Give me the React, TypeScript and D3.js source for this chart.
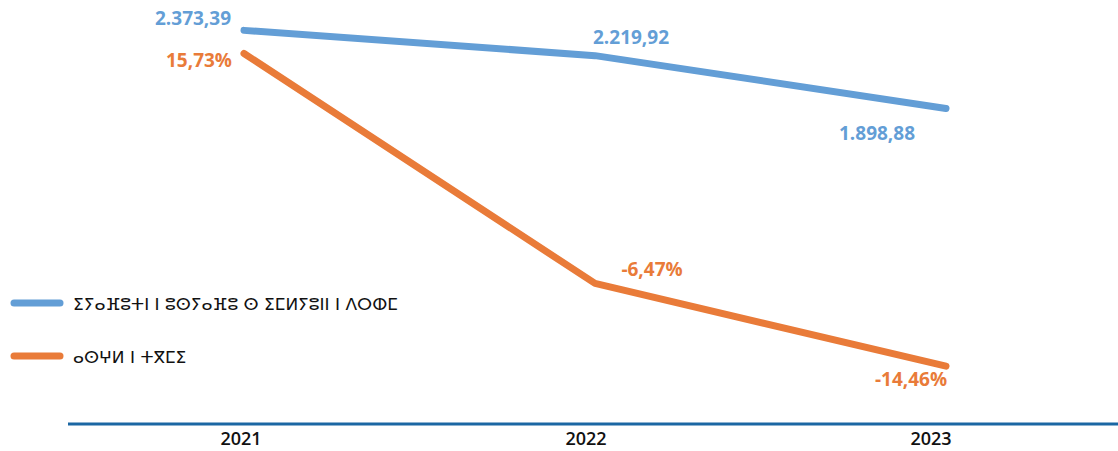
import * as d3 from 'd3';

const years = ['2021', '2022', '2023'];
const amounts = [2373.39, 2219.92, 1898.88];
const amountLabels = ['2.373,39', '2.219,92', '1.898,88'];
const rates = [15.73, -6.47, -14.46];
const rateLabels = ['15,73%', '-6,47%', '-14,46%'];
const legendNames = ['ⵉⵢⴰⴼⵓⵜⵏ ⵏ ⵓⵙⵢⴰⴼⵓ ⵙ ⵉⵎⵍⵢⵓⵏⵏ ⵏ ⴷⵔⵀⵎ', 'ⴰⵙⵖⵍ ⵏ ⵜⴳⵎⵉ'];

const W = 1118;
const H = 451;
const BLUE = '#639ed6';
const ORANGE = '#e97b39';

export default function App() {
  const x = d3.scaleBand().domain(years).range([68.5, 1121.5]);
  const cx = (d: string) => (x(d) as number) + x.bandwidth() / 2;
  // year labels sit a bit left of the points
  const labelX = d3.scalePoint().domain(years).range([241, 931]);
  const yAmount = d3.scaleLinear().domain([0, 2400]).range([421, 26]);
  const yRate = d3.scaleLinear().domain([-19.75, 18.38]).range([421, 26]);

  const amountLine = d3.line<number>().x((_, i) => cx(years[i])).y(d => yAmount(d));
  const rateLine = d3.line<number>().x((_, i) => cx(years[i])).y(d => yRate(d));

  const amountOffsets = [[-51, -5], [36, -12], [-69, 32]];
  const rateOffsets = [[-45, 14], [57, -7], [-35, 20]];

  return (
    <svg width={W} height={H} style={{position: 'absolute', left: 0, top: 0}}
         fontFamily="'Open Sans', sans-serif">
      <path d={rateLine(rates) ?? ''} fill="none" stroke={ORANGE} strokeWidth={7} strokeLinecap="round" strokeLinejoin="round"/>
      <path d={amountLine(amounts) ?? ''} fill="none" stroke={BLUE} strokeWidth={7} strokeLinecap="round" strokeLinejoin="round"/>

      {amounts.map((v, i) => (
        <text key={'a' + i} x={cx(years[i]) + amountOffsets[i][0]} y={yAmount(v) + amountOffsets[i][1]}
              textAnchor="middle" fontSize={19} fontWeight={700} fill={BLUE}>{amountLabels[i]}</text>
      ))}
      {rates.map((v, i) => (
        <text key={'r' + i} x={cx(years[i]) + rateOffsets[i][0]} y={yRate(v) + rateOffsets[i][1]}
              textAnchor="middle" fontSize={19} fontWeight={700} fill={ORANGE}>{rateLabels[i]}</text>
      ))}

      <line x1={68} x2={W} y1={424} y2={424} stroke="#1b67a3" strokeWidth={3}/>
      {years.map(yr => (
        <text key={yr} x={labelX(yr)} y={445} textAnchor="middle" fontSize={18} fontWeight={600} fill="#111">{yr}</text>
      ))}

      {legendNames.map((name, i) => (
        <g key={name} transform={`translate(0, ${303 + i * 53})`}>
          <line x1={14} x2={60} y1={0} y2={0} stroke={i === 0 ? BLUE : ORANGE} strokeWidth={7} strokeLinecap="round"/>
          <text x={73} y={7} fontSize={17} fontFamily="'DejaVu Sans'" fill="#111">{name}</text>
        </g>
      ))}
    </svg>
  );
}
